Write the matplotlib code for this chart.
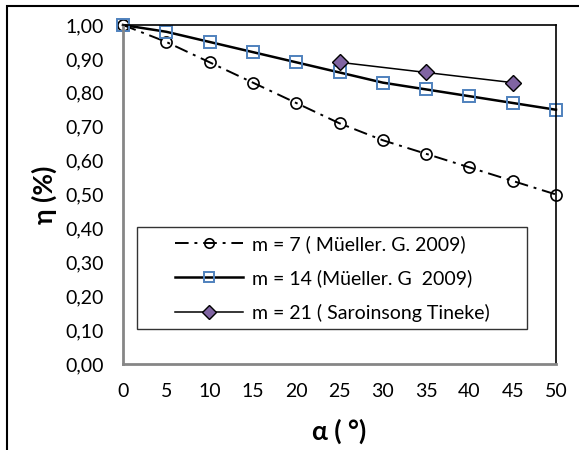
import matplotlib.pyplot as plt
from matplotlib.patches import Rectangle
from matplotlib.legend_handler import HandlerLine2D

plt.rcParams['font.family'] = ['Lato', 'DejaVu Sans']

# Dados
alpha = [0, 5, 10, 15, 20, 25, 30, 35, 40, 45, 50]
eta_m7 = [1.00, 0.95, 0.89, 0.83, 0.77, 0.71, 0.66, 0.62, 0.58, 0.54, 0.50]
eta_m14 = [1.00, 0.98, 0.95, 0.92, 0.89, 0.86, 0.83, 0.81, 0.79, 0.77, 0.75]
alpha_m21 = [25, 35, 45]
eta_m21 = [0.89, 0.86, 0.83]

yticks = [0.0, 0.1, 0.2, 0.3, 0.4, 0.5, 0.6, 0.7, 0.8, 0.9, 1.0]
xticks = [0, 5, 10, 15, 20, 25, 30, 35, 40, 45, 50]

fig = plt.figure(figsize=(5.79, 4.5), dpi=100)
ax = fig.add_axes([123/579, 1 - 364/450, (556-123)/579, (364-25)/450])

# moldura externa
fig.patches.append(Rectangle((7/579, -0.1), 1.2, 1 - 6/450 + 0.1,
                             transform=fig.transFigure, fill=False,
                             edgecolor='black', linewidth=1.5))

ax.plot(alpha, eta_m7, color='black', linewidth=1.4, dashes=(7, 3, 1.5, 3),
        marker='o', markersize=8, markerfacecolor='none', markeredgecolor='black',
        markeredgewidth=1.2, label='m = 7 ( Müeller. G. 2009)', clip_on=False)
ax.plot(alpha, eta_m14, color='black', linewidth=1.8, marker='s', markersize=8,
        markerfacecolor='none', markeredgecolor='#4F81BD', markeredgewidth=1.4,
        label='m = 14 (Müeller. G  2009)', clip_on=False)
ax.plot(alpha_m21, eta_m21, color='black', linewidth=1.1, marker='D', markersize=8.5,
        markerfacecolor='#8064A2', markeredgecolor='black', markeredgewidth=1.0,
        label='m = 21 ( Saroinsong Tineke)', clip_on=False)

ax.set_xlim(0, 50)
ax.set_ylim(0, 1.0)
ax.set_xticks(xticks)
ax.set_yticks(yticks)
ax.set_yticklabels([f'{v:.2f}'.replace('.', ',') for v in yticks])
ax.tick_params(axis='both', length=0, labelsize=14)
ax.tick_params(axis='x', pad=14)
ax.tick_params(axis='y', pad=14)

for s in ['left', 'bottom']:
    ax.spines[s].set_color('#868686')
    ax.spines[s].set_linewidth(2)
for s in ['top', 'right']:
    ax.spines[s].set_color('black')
    ax.spines[s].set_linewidth(1.2)

ax.set_xlabel('α ( °)', fontsize=19, fontweight='bold', labelpad=13)
ax.set_ylabel('η (%)', fontsize=19, fontweight='bold', labelpad=6)

leg = ax.legend(loc='upper left', bbox_to_anchor=((137-123)/433, (364-227)/339,
                                                   (527-137)/433, 0),
                mode='expand', fontsize=14, handlelength=5.05, handletextpad=0.46,
                frameon=True, fancybox=False, borderaxespad=0, labelspacing=0.85,
                markerscale=0.85,
                handler_map={type(ax.lines[0]): HandlerLine2D(xpad=1.55)})
leg.get_frame().set_edgecolor('black')
leg.get_frame().set_linewidth(1.0)

plt.savefig('out.png', dpi=100)
